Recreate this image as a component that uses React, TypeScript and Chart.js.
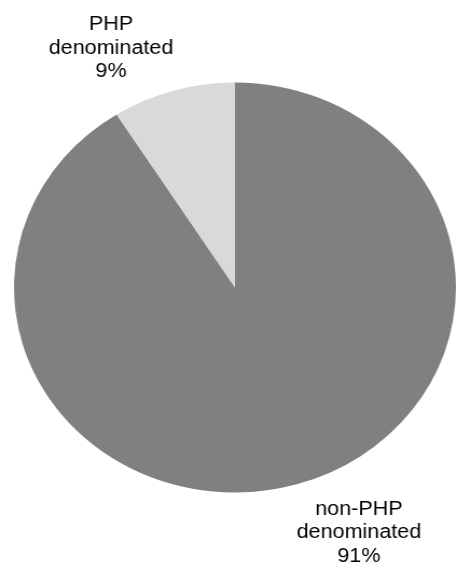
import React, { useEffect, useRef } from "react";
import { Chart, registerables } from "chart.js";

Chart.register(...registerables);

const categories = ["non-PHP denominated", "PHP denominated"];
const labelLines = [["non-PHP", "denominated"], ["PHP", "denominated"]];
const values = [91, 9];
const percentLabels = ["91%", "9%"];
const colors = ["#808080", "#d9d9d9"];

const CANVAS_W = 424;
const CANVAS_H = 564;
const STRETCH_X = 457 / CANVAS_W;

const outsideLabels = {
  id: "outsideLabels",
  afterDatasetsDraw(chart: any) {
    const ctx = chart.ctx;
    const meta = chart.getDatasetMeta(0);
    const fontSize = 20;
    const lineH = 23.5;
    const gapAbove = 8;
    const gapBelow = 12;
    ctx.save();
    ctx.font = `${fontSize}px "Liberation Sans", Arial, sans-serif`;
    ctx.fillStyle = "#000";
    ctx.textAlign = "center";
    ctx.textBaseline = "alphabetic";
    meta.data.forEach((arc: any, i: number) => {
      const { x, y, startAngle, endAngle, outerRadius } = arc.getProps(
        ["x", "y", "startAngle", "endAngle", "outerRadius"],
        true
      );
      const mid = (startAngle + endAngle) / 2;
      const c = Math.cos(mid);
      const s = Math.sin(mid);
      const ax = x + c * outerRadius;
      const ay = y + s * outerRadius + (s >= 0 ? gapBelow : -gapAbove);
      const lines = [...labelLines[i], percentLabels[i]];
      const w = Math.max(...lines.map((l) => ctx.measureText(l).width));
      const h = lines.length * lineH;
      const left = c >= 0 ? ax : ax - w;
      const top = s >= 0 ? ay : ay - h;
      lines.forEach((l, k) => {
        ctx.fillText(l, left + w / 2, top + k * lineH + lineH * 0.78);
      });
    });
    ctx.restore();
  },
};

export default function App() {
  const ref = useRef<HTMLCanvasElement | null>(null);
  useEffect(() => {
    if (!ref.current) return;
    const chart = new Chart(ref.current, {
      type: "pie",
      data: {
        labels: categories,
        datasets: [
          {
            data: values,
            backgroundColor: colors,
            borderWidth: 0,
          },
        ],
      },
      options: {
        animation: false,
        responsive: false,
        devicePixelRatio: 1,
        layout: { padding: { left: 13, right: 1, top: 82.5, bottom: 71.5 } },
        plugins: {
          legend: { display: false },
          tooltip: { enabled: false },
        },
      },
      plugins: [outsideLabels],
    });
    return () => chart.destroy();
  }, []);
  return (
    <div style={{ position: "absolute", left: 0, top: 0, width: 457, height: 564, overflow: "hidden", background: "#fff" }}>
      <div style={{ transform: `scaleX(${STRETCH_X})`, transformOrigin: "0 0", width: CANVAS_W, height: CANVAS_H }}>
        <canvas ref={ref} width={CANVAS_W} height={CANVAS_H} />
      </div>
    </div>
  );
}
